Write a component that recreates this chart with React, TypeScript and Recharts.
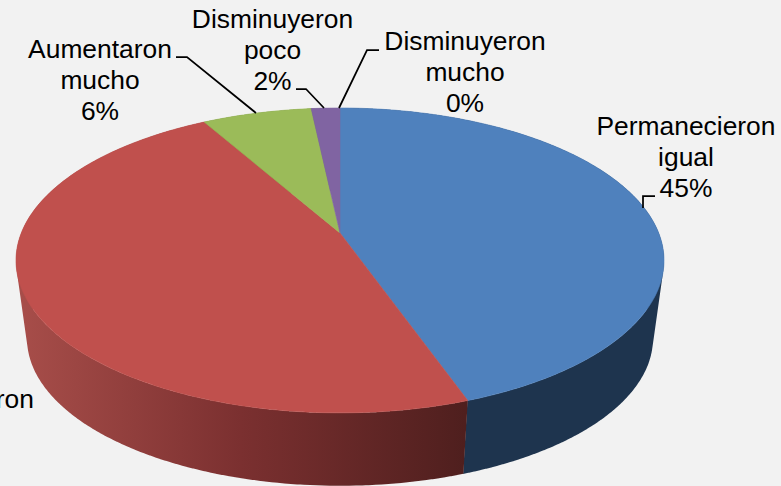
import { Pie, PieChart } from 'recharts';

const categories = ['Permanecieron igual', 'Aumentaron poco', 'Aumentaron mucho', 'Disminuyeron poco', 'Disminuyeron mucho'];
const values = [44.6, 47.2, 6.5, 1.7, 0];
// the red slice's label is cut by the picture edge, only its first line shows
const labelLines = [
  ['Permanecieron', 'igual', '45%'],
  ['Aumentaron'],
  ['Aumentaron', 'mucho', '6%'],
  ['Disminuyeron', 'poco', '2%'],
  ['Disminuyeron', 'mucho', '0%'],
];

const topColors = ['#4f81bd', '#c0504d', '#9bbb59', '#8064a2', '#4bacc6'];
const wallColors = ['#1e344e', 'url(#redWall)', '#5d7035', '#4c3c61', '#2d6776'];

// where each label sits, and its leader line (empty for the clipped one)
const labelLayout = [
  { x: 686, y: 135, leader: '655,196 643,196 643,208' },
  { x: -38, y: 408, leader: '' },
  { x: 100, y: 58, leader: '176,57 187,57 256,113' },
  { x: 272.5, y: 28, leader: '296,89 306,89 324,108' },
  { x: 465, y: 50, leader: '379,50 367,50 339,108' },
];

const tableData = categories.map((name, i) => ({ name, value: values[i], fill: topColors[i], wall: wallColors[i] }));

// perspective of the tilted disc
const TILT = 0.18;
const SQUASH = 147.5;
const DEPTH = 79;
const BOTTOM_SCALE = 0.966;

const rim = (cx: number, cy: number, radius: number, angle: number) => {
  const rad = (angle * Math.PI) / 180;
  const u = Math.cos(rad);
  const v = -Math.sin(rad);
  const w = 1 - TILT * v;
  return { x: cx + (radius * Math.sqrt(1 - TILT * TILT) * u) / w, y: cy + (SQUASH * v) / w };
};

const lowerRim = (cx: number, cy: number, radius: number, angle: number) => {
  const p = rim(cx, cy, radius, angle);
  return { x: cx + (p.x - cx) * BOTTOM_SCALE, y: cy + DEPTH + (p.y - cy) * BOTTOM_SCALE };
};

const TopFace = (props: any) => {
  const { cx, cy, outerRadius, startAngle, endAngle, fill } = props;
  if (startAngle === endAngle) return null;
  const steps = Math.max(2, Math.ceil(Math.abs(startAngle - endAngle)));
  let d = `M${cx},${cy}`;
  for (let i = 0; i <= steps; i++) {
    const p = rim(cx, cy, outerRadius, startAngle + ((endAngle - startAngle) * i) / steps);
    d += `L${p.x.toFixed(2)},${p.y.toFixed(2)}`;
  }
  // thin stroke in the same colour closes the seam between slices
  return <path d={d + 'Z'} fill={fill} stroke={fill} strokeWidth={0.6} />;
};

const WallFace = (props: any) => {
  const { cx, cy, outerRadius, startAngle, endAngle, wall } = props;
  if (startAngle === endAngle) return null;
  const steps = Math.max(2, Math.ceil(Math.abs(startAngle - endAngle)));
  let d = '';
  for (let i = 0; i < steps; i++) {
    const a0 = startAngle + ((endAngle - startAngle) * i) / steps;
    const a1 = startAngle + ((endAngle - startAngle) * (i + 1.05)) / steps;
    const q = [rim(cx, cy, outerRadius, a0), rim(cx, cy, outerRadius, a1), lowerRim(cx, cy, outerRadius, a1), lowerRim(cx, cy, outerRadius, a0)];
    let area = 0;
    q.forEach((p, k) => {
      const n = q[(k + 1) % 4];
      area += p.x * n.y - n.x * p.y;
    });
    const pts = area < 0 ? q.reverse() : q;
    d += 'M' + pts.map((p) => `${p.x.toFixed(2)},${p.y.toFixed(2)}`).join('L') + 'Z';
  }
  return <path d={d} fill={wall} />;
};

const renderLabel = (props: any) => {
  const { index } = props;
  const spot = labelLayout[index];
  return (
    <g key={index}>
      {spot.leader && <polyline points={spot.leader} fill='none' stroke='#000000' strokeWidth={1.75} />}
      <text x={spot.x} y={spot.y} textAnchor='middle' fontSize={26.4} fontFamily='"Liberation Sans", Arial, sans-serif' fill='#000000'>
        {labelLines[index].map((line, i) => (
          <tspan key={i} x={spot.x} dy={i === 0 ? 0 : 31}>
            {line}
          </tspan>
        ))}
      </text>
    </g>
  );
};

export default function App() {
  return (
    <div style={{ position: 'absolute', left: 0, top: 0, width: 781, height: 486, background: '#f2f2f2', overflow: 'hidden' }}>
      <PieChart width={781} height={486} margin={{ top: 0, right: 0, bottom: 0, left: 0 }}>
        <defs>
          <linearGradient id='redWall' gradientUnits='userSpaceOnUse' x1='16' y1='0' x2='465' y2='0'>
            <stop offset='0%' stopColor='#a84e4a' />
            <stop offset='50%' stopColor='#7b3030' />
            <stop offset='100%' stopColor='#4f1f1e' />
          </linearGradient>
        </defs>
        <Pie
          data={tableData}
          dataKey='value'
          nameKey='name'
          cx={340}
          cy={233}
          outerRadius={324}
          startAngle={90}
          endAngle={-270}
          stroke='none'
          shape={WallFace}
          isAnimationActive={false}
        />
        <Pie
          data={tableData}
          dataKey='value'
          nameKey='name'
          cx={340}
          cy={233}
          outerRadius={324}
          startAngle={90}
          endAngle={-270}
          stroke='none'
          shape={TopFace}
          label={renderLabel}
          labelLine={false}
          isAnimationActive={false}
        />
      </PieChart>
    </div>
  );
}
